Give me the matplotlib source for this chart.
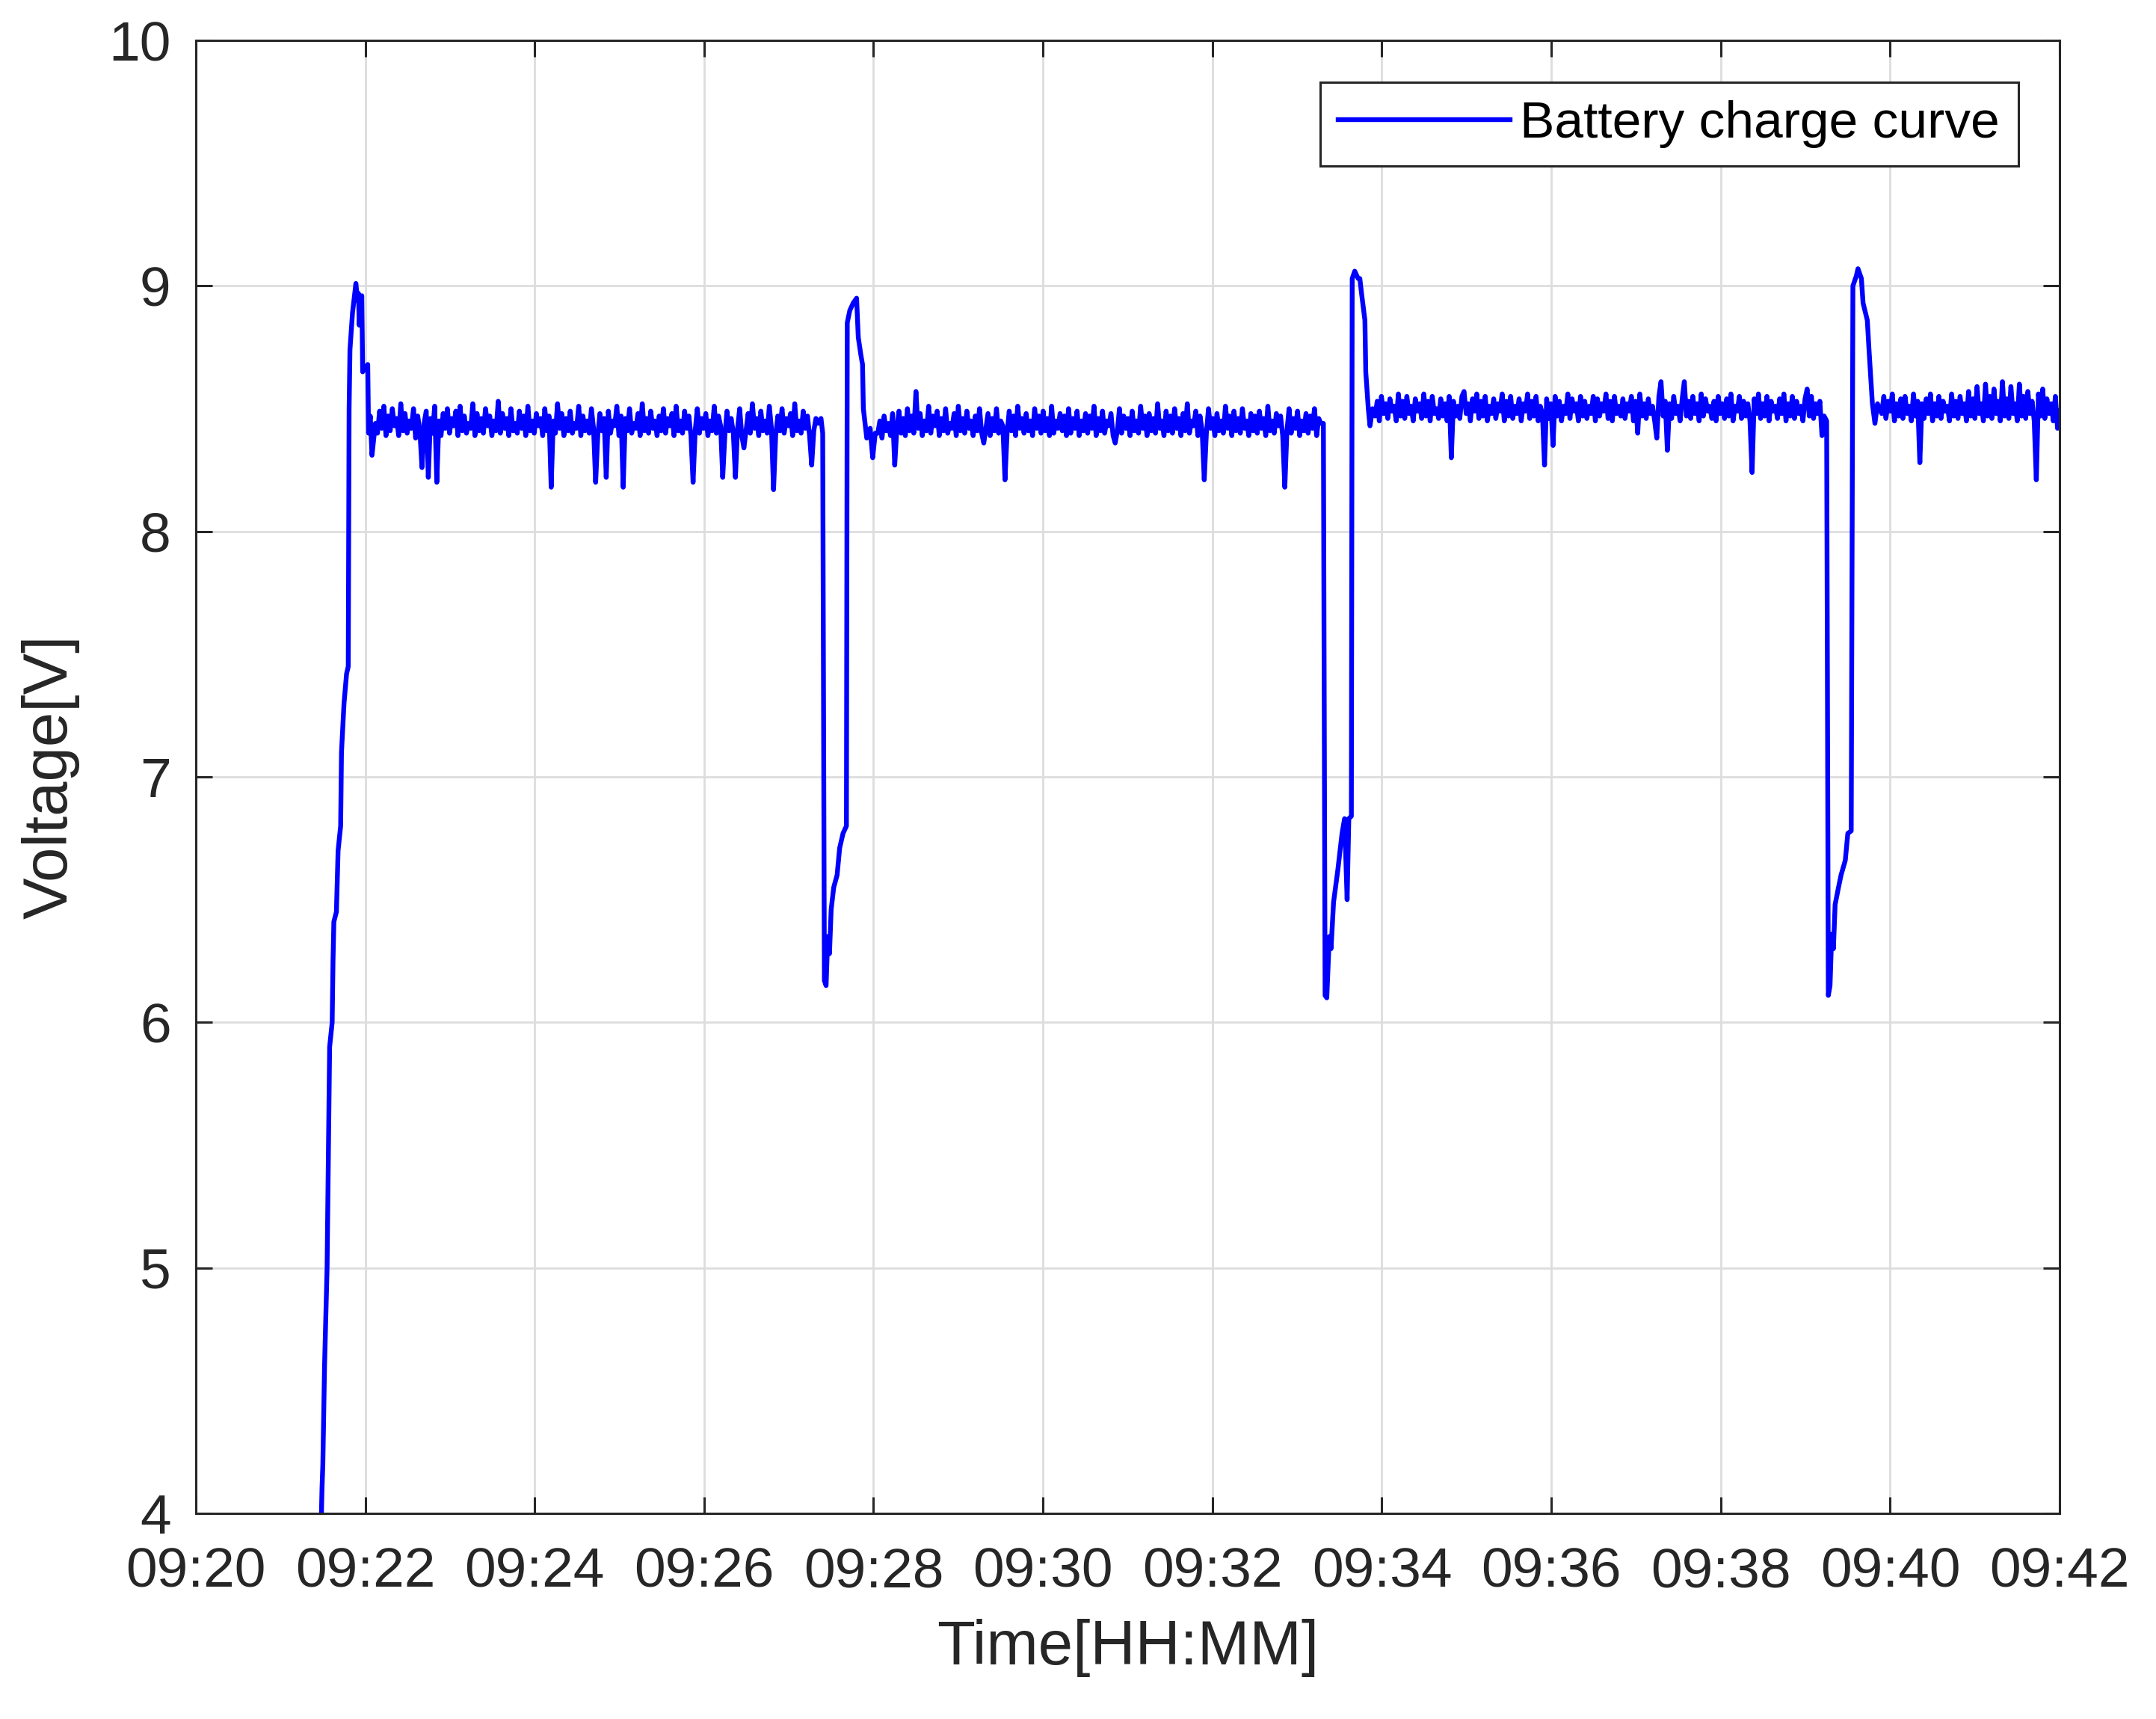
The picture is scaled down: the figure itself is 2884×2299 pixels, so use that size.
import numpy as np
import matplotlib
matplotlib.use("Agg")
import matplotlib.pyplot as plt

plt.rcParams['font.family'] = ['Liberation Sans', 'DejaVu Sans']

# ---------------- data (minutes after 09:20, volts) ----------------
tick_min = [0, 2, 4, 6, 8, 10, 12, 14, 16, 18, 20, 22]
tick_lbl = ['09:20', '09:22', '09:24', '09:26', '09:28', '09:30',
            '09:32', '09:34', '09:36', '09:38', '09:40', '09:42']

# first charge-up
rise1_t = [1.47, 1.49, 1.50, 1.52, 1.55, 1.57, 1.58, 1.61, 1.62, 1.63, 1.66, 1.68,
           1.71, 1.72, 1.75, 1.78, 1.80, 1.81, 1.82, 1.85, 1.87, 1.89, 1.91, 1.92,
           1.93, 1.95, 1.96, 1.97, 2.01, 2.03, 2.04, 2.06, 2.08]
rise1_v = [3.80, 4.10, 4.20, 4.60, 5.00, 5.60, 5.90, 6.00, 6.25, 6.41, 6.45, 6.70,
           6.80, 7.10, 7.30, 7.42, 7.45, 8.50, 8.74, 8.89, 8.95, 9.01, 8.94, 8.97,
           8.84, 8.93, 8.96, 8.65, 8.67, 8.68, 8.40, 8.47, 8.31]

# plateau 1 : 2.12 .. 7.345 min
plat1_v = [8.44, 8.40, 8.49, 8.42, 8.51, 8.39, 8.47, 8.41, 8.50, 8.43,
           8.46, 8.39, 8.52, 8.41, 8.48, 8.40, 8.45, 8.42, 8.50, 8.38,
           8.47, 8.41, 8.26, 8.44, 8.49, 8.22, 8.46, 8.40, 8.51, 8.20,
           8.45, 8.39, 8.48, 8.42, 8.50, 8.40, 8.46, 8.43, 8.49, 8.39,
           8.51, 8.41, 8.47, 8.40, 8.44, 8.42, 8.52, 8.39, 8.48, 8.41,
           8.46, 8.40, 8.50, 8.43, 8.47, 8.39, 8.45, 8.41, 8.53, 8.40,
           8.48, 8.42, 8.46, 8.39, 8.50, 8.41, 8.44, 8.40, 8.49, 8.42,
           8.47, 8.39, 8.51, 8.41, 8.45, 8.40, 8.48, 8.43, 8.46, 8.39,
           8.50, 8.41, 8.47, 8.18, 8.45, 8.40, 8.52, 8.42, 8.48, 8.39,
           8.46, 8.41, 8.49, 8.40, 8.44, 8.42, 8.51, 8.39, 8.47, 8.41,
           8.45, 8.40, 8.50, 8.42, 8.20, 8.39, 8.48, 8.41, 8.46, 8.22,
           8.49, 8.40, 8.45, 8.43, 8.51, 8.39, 8.47, 8.18, 8.46, 8.41,
           8.50, 8.40, 8.44, 8.42, 8.48, 8.39, 8.52, 8.41, 8.46, 8.40,
           8.49, 8.42, 8.45, 8.39, 8.47, 8.41, 8.50, 8.40, 8.46, 8.43,
           8.48, 8.39, 8.51, 8.41, 8.45, 8.40, 8.49, 8.42, 8.47, 8.39,
           8.20, 8.41, 8.50, 8.40, 8.46, 8.42, 8.48, 8.39, 8.45, 8.41,
           8.51, 8.40, 8.47, 8.43, 8.22, 8.39, 8.49, 8.41, 8.46, 8.40,
           8.22, 8.42, 8.50, 8.39, 8.34, 8.41, 8.48, 8.40, 8.52, 8.42,
           8.46, 8.39, 8.49, 8.41, 8.45, 8.40, 8.51, 8.42, 8.17, 8.39,
           8.47, 8.41, 8.50, 8.40, 8.46, 8.43, 8.48, 8.39, 8.52, 8.41,
           8.45, 8.40, 8.49, 8.42, 8.47, 8.39, 8.27, 8.41, 8.46, 8.44]

drop1_t = [7.38, 7.40, 7.42, 7.44, 7.46, 7.48, 7.50, 7.53, 7.57, 7.60, 7.64, 7.68,
           7.69, 7.72, 7.76, 7.80, 7.82, 7.85, 7.87, 7.88, 7.92, 7.96, 7.99, 8.02]
drop1_v = [8.46, 8.40, 6.17, 6.15, 6.35, 6.28, 6.46, 6.55, 6.60, 6.71, 6.77, 6.80,
           8.85, 8.90, 8.93, 8.95, 8.79, 8.72, 8.68, 8.50, 8.38, 8.42, 8.30, 8.40]

# plateau 2 : 8.05 .. 13.28 min
plat2_v = [8.40, 8.45, 8.38, 8.47, 8.41, 8.44, 8.39, 8.48, 8.27, 8.42,
           8.49, 8.40, 8.46, 8.39, 8.50, 8.41, 8.47, 8.40, 8.57, 8.42,
           8.48, 8.39, 8.45, 8.41, 8.51, 8.40, 8.47, 8.43, 8.49, 8.39,
           8.46, 8.41, 8.50, 8.40, 8.44, 8.42, 8.48, 8.39, 8.51, 8.41,
           8.46, 8.40, 8.49, 8.42, 8.45, 8.39, 8.47, 8.41, 8.50, 8.40,
           8.36, 8.42, 8.48, 8.39, 8.46, 8.41, 8.50, 8.40, 8.45, 8.43,
           8.21, 8.40, 8.49, 8.41, 8.47, 8.39, 8.51, 8.42, 8.46, 8.40,
           8.48, 8.41, 8.45, 8.39, 8.50, 8.42, 8.47, 8.40, 8.49, 8.41,
           8.46, 8.39, 8.51, 8.40, 8.45, 8.42, 8.48, 8.41, 8.47, 8.39,
           8.50, 8.40, 8.46, 8.42, 8.49, 8.39, 8.45, 8.41, 8.48, 8.40,
           8.47, 8.42, 8.51, 8.39, 8.46, 8.41, 8.49, 8.40, 8.45, 8.43,
           8.48, 8.39, 8.36, 8.41, 8.50, 8.40, 8.47, 8.42, 8.46, 8.39,
           8.49, 8.41, 8.45, 8.40, 8.51, 8.42, 8.47, 8.39, 8.48, 8.41,
           8.46, 8.40, 8.52, 8.42, 8.45, 8.39, 8.49, 8.41, 8.47, 8.40,
           8.50, 8.42, 8.46, 8.39, 8.48, 8.41, 8.52, 8.40, 8.45, 8.43,
           8.49, 8.39, 8.47, 8.41, 8.21, 8.40, 8.50, 8.42, 8.46, 8.39,
           8.48, 8.41, 8.45, 8.40, 8.51, 8.42, 8.47, 8.39, 8.49, 8.41,
           8.46, 8.40, 8.50, 8.42, 8.45, 8.39, 8.48, 8.41, 8.47, 8.40,
           8.49, 8.42, 8.46, 8.39, 8.51, 8.41, 8.45, 8.40, 8.48, 8.43,
           8.47, 8.39, 8.18, 8.41, 8.50, 8.40, 8.46, 8.42, 8.49, 8.39,
           8.45, 8.41, 8.48, 8.40, 8.47, 8.42, 8.50, 8.39, 8.46, 8.44]

drop2_t = [13.31, 13.33, 13.35, 13.38, 13.40, 13.43, 13.48, 13.53, 13.56, 13.59, 13.61,
           13.64, 13.65, 13.68, 13.72, 13.74, 13.76, 13.80, 13.81, 13.84, 13.86, 13.89]
drop2_v = [8.44, 6.11, 6.10, 6.35, 6.30, 6.49, 6.62, 6.77, 6.83, 6.50, 6.83,
           6.84, 9.03, 9.06, 9.03, 9.03, 8.97, 8.86, 8.65, 8.50, 8.43, 8.50]

# plateau 3 : 13.92 .. 19.22 min
plat3_v = [8.47, 8.53, 8.45, 8.55, 8.48, 8.52, 8.46, 8.54, 8.49, 8.51,
           8.45, 8.56, 8.47, 8.53, 8.46, 8.55, 8.48, 8.51, 8.45, 8.54,
           8.49, 8.52, 8.46, 8.56, 8.47, 8.53, 8.45, 8.55, 8.48, 8.50,
           8.46, 8.54, 8.47, 8.52, 8.45, 8.55, 8.30, 8.53, 8.47, 8.51,
           8.46, 8.55, 8.57, 8.48, 8.52, 8.45, 8.54, 8.49, 8.56, 8.46,
           8.53, 8.47, 8.55, 8.45, 8.51, 8.48, 8.54, 8.46, 8.52, 8.49,
           8.56, 8.45, 8.53, 8.47, 8.55, 8.46, 8.51, 8.48, 8.54, 8.45,
           8.52, 8.49, 8.56, 8.46, 8.53, 8.47, 8.55, 8.45, 8.51, 8.48,
           8.27, 8.54, 8.46, 8.52, 8.35, 8.55, 8.47, 8.53, 8.45, 8.51,
           8.48, 8.56, 8.46, 8.54, 8.49, 8.52, 8.45, 8.55, 8.47, 8.53,
           8.46, 8.51, 8.48, 8.55, 8.45, 8.54, 8.47, 8.52, 8.49, 8.56,
           8.46, 8.53, 8.45, 8.55, 8.48, 8.51, 8.47, 8.54, 8.46, 8.52,
           8.49, 8.55, 8.45, 8.53, 8.40, 8.56, 8.47, 8.52, 8.46, 8.54,
           8.48, 8.51, 8.45, 8.38, 8.55, 8.61, 8.47, 8.53, 8.33, 8.52,
           8.46, 8.55, 8.48, 8.51, 8.45, 8.54, 8.61, 8.47, 8.53, 8.46,
           8.55, 8.48, 8.52, 8.45, 8.56, 8.47, 8.54, 8.49, 8.51, 8.46,
           8.53, 8.45, 8.55, 8.48, 8.52, 8.46, 8.54, 8.47, 8.56, 8.45,
           8.51, 8.49, 8.55, 8.46, 8.53, 8.47, 8.52, 8.45, 8.24, 8.54,
           8.48, 8.56, 8.46, 8.52, 8.47, 8.55, 8.45, 8.53, 8.49, 8.51,
           8.46, 8.54, 8.48, 8.56, 8.45, 8.52, 8.47, 8.55, 8.46, 8.53,
           8.48, 8.51, 8.45, 8.54, 8.58, 8.47, 8.55, 8.46, 8.52, 8.48,
           8.53, 8.39, 8.47]

drop3_t = [19.25, 19.27, 19.29, 19.31, 19.33, 19.35, 19.39, 19.42, 19.47, 19.50, 19.54,
           19.56, 19.60, 19.62, 19.66, 19.68, 19.73, 19.75, 19.79, 19.82, 19.85]
drop3_v = [8.45, 6.11, 6.15, 6.36, 6.30, 6.48, 6.55, 6.60, 6.66, 6.77, 6.78,
           9.00, 9.04, 9.07, 9.03, 8.93, 8.86, 8.74, 8.52, 8.44, 8.52]

# plateau 4 : 19.90 .. 22.00 min
plat4_v = [8.48, 8.55, 8.46, 8.53, 8.49, 8.56, 8.45, 8.52, 8.47, 8.54,
           8.46, 8.55, 8.48, 8.51, 8.45, 8.56, 8.47, 8.53, 8.28, 8.52,
           8.46, 8.54, 8.48, 8.56, 8.45, 8.52, 8.47, 8.55, 8.46, 8.53,
           8.49, 8.51, 8.45, 8.56, 8.47, 8.53, 8.46, 8.55, 8.48, 8.52,
           8.45, 8.57, 8.47, 8.54, 8.46, 8.59, 8.48, 8.52, 8.45, 8.60,
           8.47, 8.55, 8.46, 8.58, 8.48, 8.53, 8.45, 8.61, 8.47, 8.54,
           8.46, 8.59, 8.48, 8.52, 8.45, 8.60, 8.47, 8.55, 8.46, 8.57,
           8.48, 8.53, 8.45, 8.21, 8.56, 8.47, 8.58, 8.46, 8.54, 8.48,
           8.52, 8.45, 8.55, 8.42, 8.49]

plateaus = [(2.12, 7.345, plat1_v), (8.05, 13.28, plat2_v),
            (13.92, 19.22, plat3_v), (19.90, 22.00, plat4_v)]
steps = [(rise1_t, rise1_v), (drop1_t, drop1_v), (drop2_t, drop2_v), (drop3_t, drop3_v)]

t_all, v_all = [], []
for (st, sv), (a, b, pv) in zip(steps, plateaus):
    t_all += list(st) + list(np.linspace(a, b, len(pv)))
    v_all += list(sv) + list(pv)

# ---------------- plot ----------------
fig = plt.figure(figsize=(14.42, 11.495), dpi=200)
ax = fig.add_axes([0.0908, 0.1196, 0.8645, 0.8569])

ax.plot(t_all, v_all, color='#0000ff', lw=2.3, label='Battery charge curve')

ax.set_xlim(0, 22)
ax.set_ylim(4, 10)
ax.set_xticks(tick_min)
ax.set_xticklabels(tick_lbl)
ax.set_yticks([4, 5, 6, 7, 8, 9, 10])

ax.grid(True, color='#dddddd', lw=1.0)
ax.set_axisbelow(True)
ax.tick_params(direction='in', length=8, width=1.1, colors='#262626',
               labelsize=27, top=True, right=True, pad=12)
ax.tick_params(axis='x', pad=16)
for s in ax.spines.values():
    s.set_linewidth(1.1)
    s.set_color('#262626')

ax.set_xlabel('Time[HH:MM]', fontsize=30, color='#262626', labelpad=10)
ax.set_ylabel('Voltage[V]', fontsize=30, color='#262626', labelpad=14)

leg = ax.legend(loc='upper right', fontsize=25, fancybox=False, framealpha=1,
                edgecolor='#262626', handlelength=3.3, handletextpad=0.2,
                borderaxespad=0.8, borderpad=0.35)
leg.get_frame().set_linewidth(1.1)

plt.savefig('out.png', dpi=200)
